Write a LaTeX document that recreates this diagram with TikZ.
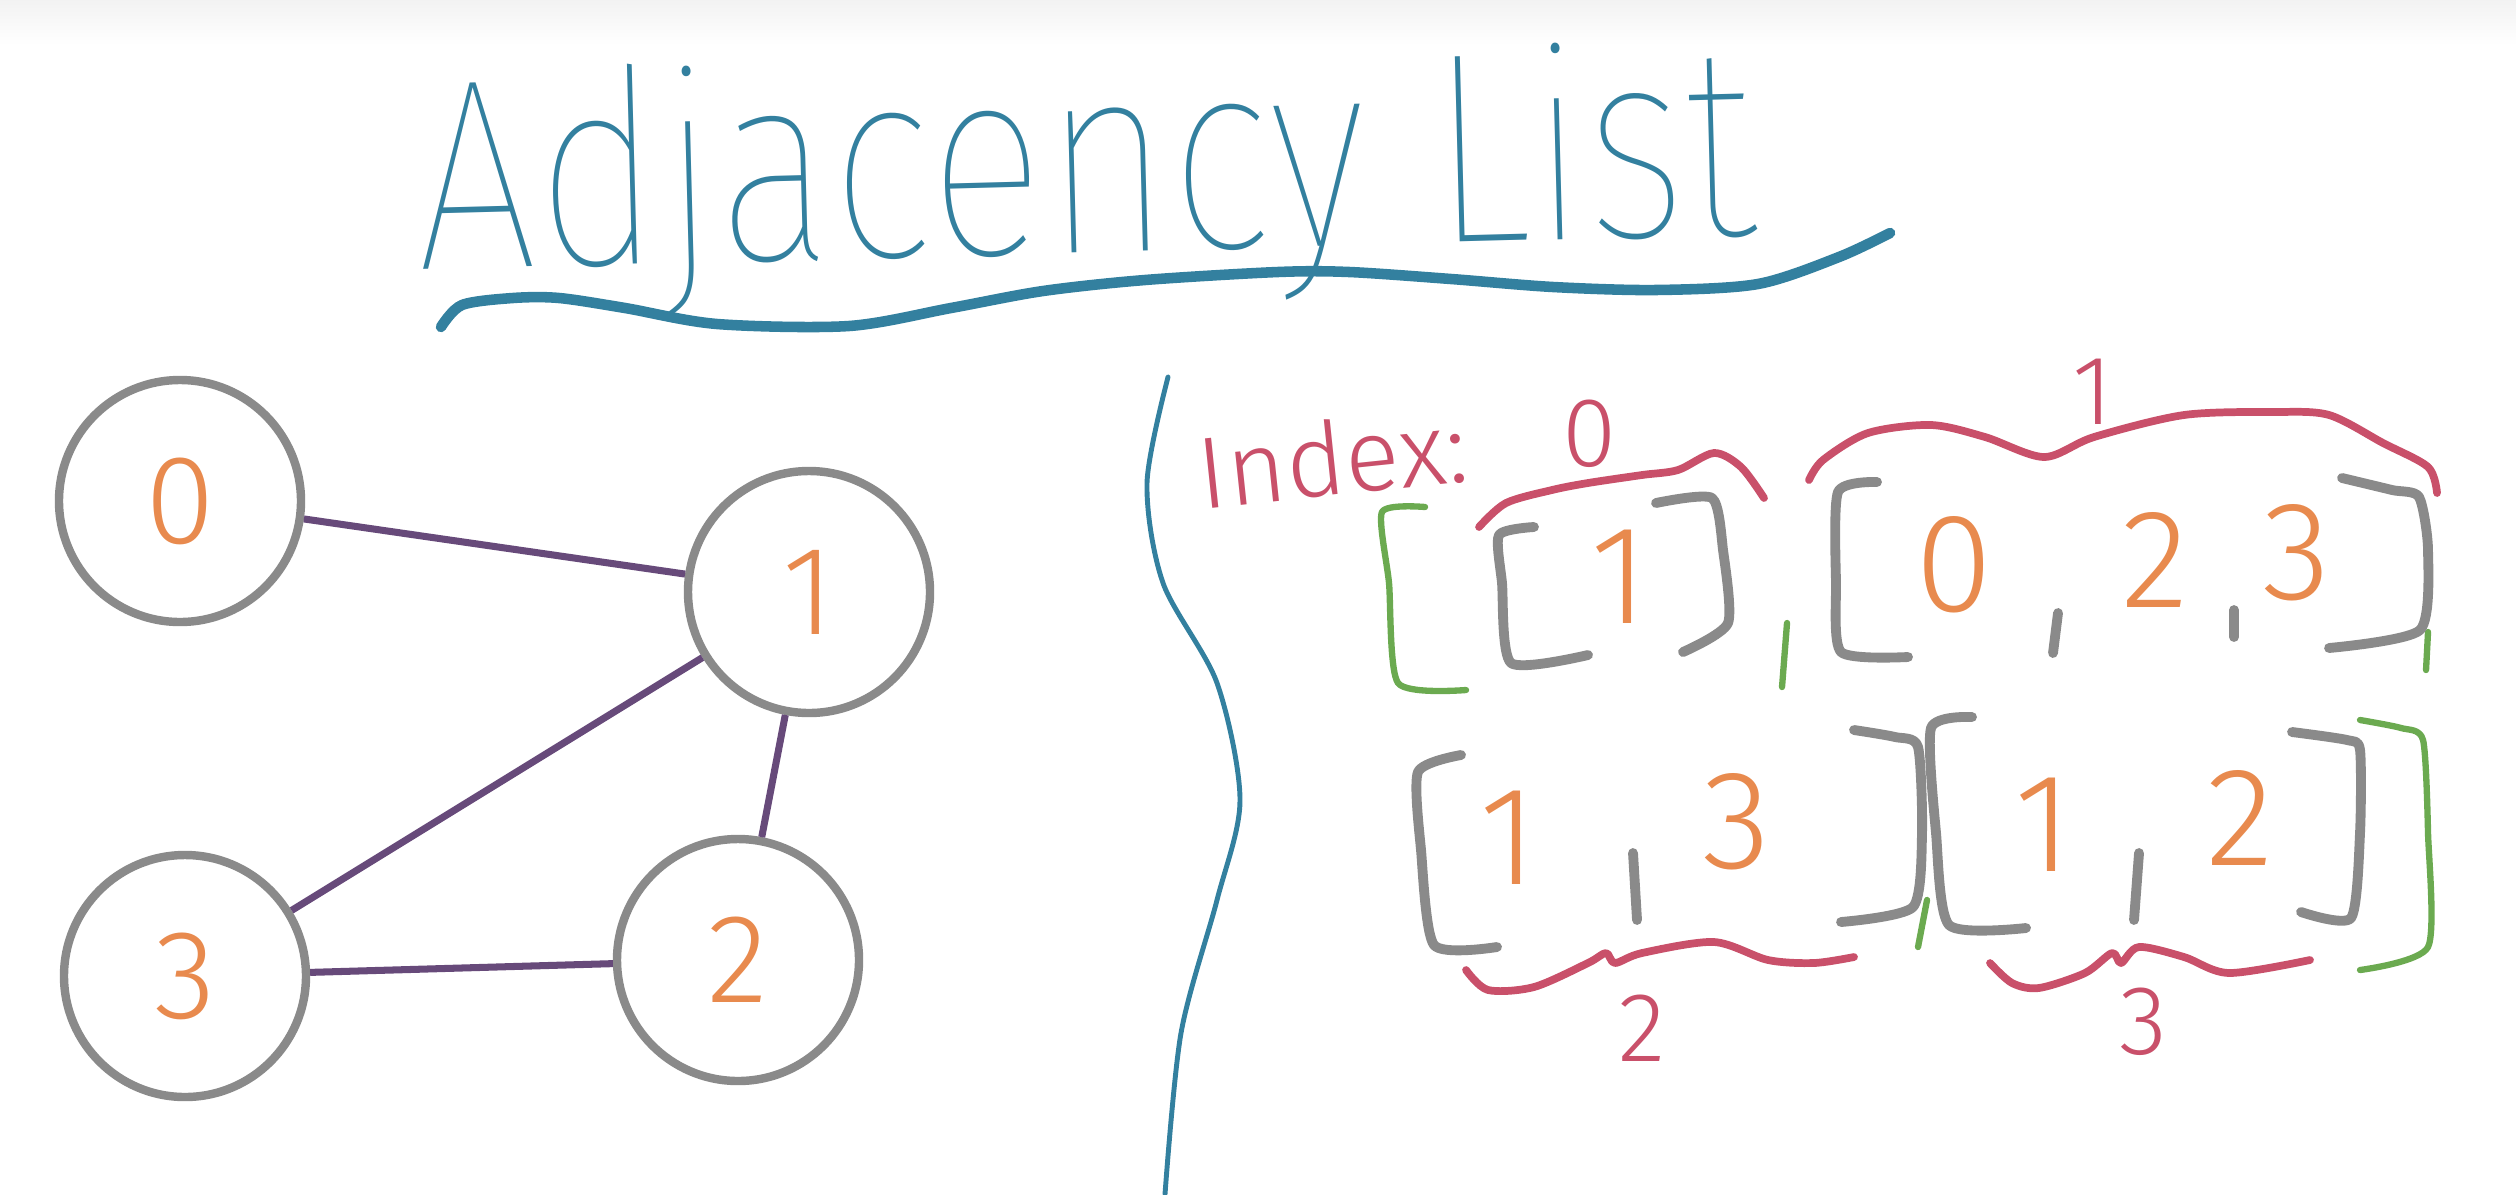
\documentclass[tikz,border=0pt]{standalone}
\usepackage{fontspec}
\setmainfont{Fira Sans}[UprightFont=* Light]
\newfontfamily\thinf{Fira Sans}[UprightFont=* Thin]
\usepackage{tikz}
\usetikzlibrary{calc,positioning}
\definecolor{titlec}{HTML}{33809F}
\definecolor{nodec}{HTML}{8A8A8A}
\definecolor{digc}{HTML}{E88A4E}
\definecolor{edgec}{HTML}{674A7A}
\definecolor{redc}{HTML}{C9506A}
\definecolor{greenc}{HTML}{6BAA50}
\tikzset{
  vtx/.style={circle,draw=nodec,line width=2.4pt,minimum size=2.42cm,inner sep=0pt,text=digc,font=\fontsize{36}{40}\selectfont},
  edg/.style={edgec,line width=2pt},
  brk/.style={nodec,line width=2.8pt,line cap=round,line join=round},
  grb/.style={greenc,line width=1.8pt,line cap=round,line join=round},
  brc/.style={redc,line width=2.2pt,line cap=round,line join=round},
  dig/.style={text=digc,inner sep=0pt,font=\fontsize{40}{44}\selectfont},
  lab/.style={text=redc,inner sep=0pt,font=\fontsize{28}{32}\selectfont}
}
\begin{document}
\begin{tikzpicture}[x=0.1mm,y=-0.1mm]
\useasboundingbox (0,0) rectangle (2516,1194);
\shade[top color=black!5,bottom color=white] (0,0) rectangle (2516,45);
% title
\node[text=titlec,inner sep=0pt,anchor=base,rotate=1.5] (ttl) at (1088,252) {\resizebox{13.4cm}{2.0cm}{\thinf Adjacency List}};
\draw[titlec,line width=3pt,line cap=round] plot[smooth,tension=0.5] coordinates {(441,327) (462,305) (513,298) (559,298) (625,308) (717,324) (849,326) (951,308) (1043,291) (1145,280) (1278,272) (1349,272) (1451,279) (1553,287) (1656,290) (1758,284) (1839,257) (1890,233)};
\draw[titlec,line width=1.4pt,line cap=round] plot[smooth,tension=0.5] coordinates {(1168,377) (1147,483) (1163,583) (1217,683) (1240,800) (1217,900) (1181,1033) (1165,1194)};
% graph
\node[vtx] (v0) at (180,501) {0};
\node[vtx] (v1) at (809,592) {1};
\node[vtx] (v3) at (185,976) {3};
\node[vtx] (v2) at (738,960) {2};
\draw[edg] (v0) -- (v1);
\draw[edg] (v1) -- (v3);
\draw[edg] (v1) -- (v2);
\draw[edg] (v3) -- (v2);
% index labels
\node[text=redc,inner sep=0pt,rotate=6,font=\fontsize{29}{32}\selectfont] (idx) at (1332,458) {Index:};
\node[lab] (i0) at (1590,434) {0};
\node[lab] (i1) at (2093,392) {1};
\node[lab] (i2) at (1642,1028) {2};
\node[lab] (i3) at (2143,1022) {3};
\draw[brc] plot[smooth,tension=0.5] coordinates {(1479,527) (1506,503) (1552,490) (1588,483) (1642,475) (1678,470) (1714,453) (1741,467) (1764,498)};
\draw[brc] plot[smooth,tension=0.5] coordinates {(1809,480) (1823,460) (1868,433) (1931,425) (1985,437) (2044,457) (2094,437) (2184,415) (2274,412) (2329,415) (2383,443) (2428,467) (2437,493)};
\draw[brc] plot[smooth,tension=0.5] coordinates {(1466,970) (1488,990) (1534,987) (1588,963) (1606,953) (1615,963) (1642,953) (1714,942) (1768,960) (1814,963) (1854,957)};
\draw[brc] plot[smooth,tension=0.5] coordinates {(1990,963) (2012,983) (2039,988) (2085,973) (2112,953) (2121,963) (2139,947) (2184,957) (2229,973) (2310,960)};
% outer list
\draw[grb] plot[smooth,tension=0.4] coordinates {(1425,507) (1382,512) (1389,583) (1398,683) (1466,690)};
\draw[grb] plot[smooth,tension=0.4] coordinates {(2360,720) (2401,728) (2423,740) (2428,833) (2428,947) (2360,970)};
\draw[grb] (1787,623) -- (1782,687);
\draw[grb] (2428,632) -- (2426,670);
\draw[grb] (1927,900) -- (1918,947);
% inner lists, row one
\draw[brk] plot[smooth,tension=0.4] coordinates {(1534,527) (1499,535) (1502,583) (1511,663) (1588,655)};
\node[dig] (a1) at (1620,577) {1};
\draw[brk] plot[smooth,tension=0.4] coordinates {(1656,503) (1712,498) (1723,550) (1728,623) (1683,652)};
\draw[brk] plot[smooth,tension=0.4] coordinates {(1877,482) (1838,492) (1836,583) (1841,652) (1908,657)};
\node[dig] (b0) at (1954,565) {0};
\draw[brk] (2058,613) -- (2053,653);
\node[dig] (b2) at (2155,560) {2};
\draw[brk] (2234,610) -- (2234,637);
\node[dig] (b3) at (2297,553) {3};
\draw[brk] plot[smooth,tension=0.4] coordinates {(2342,478) (2392,490) (2419,497) (2428,550) (2420,630) (2329,648)};
% inner lists, row two
\draw[brk] plot[smooth,tension=0.4] coordinates {(1461,755) (1418,772) (1421,850) (1434,945) (1497,947)};
\node[dig] (c1) at (1509,838) {1};
\draw[brk] (1633,853) -- (1637,920);
\node[dig] (c3) at (1737,822) {3};
\draw[brk] plot[smooth,tension=0.4] coordinates {(1854,730) (1895,737) (1918,747) (1922,833) (1913,907) (1841,922)};
\draw[brk] plot[smooth,tension=0.4] coordinates {(1972,717) (1931,728) (1936,833) (1949,925) (2026,928)};
\node[dig] (d1) at (2043,825) {1};
\draw[brk] (2139,853) -- (2134,920);
\node[dig] (d2) at (2240,818) {2};
\draw[brk] plot[smooth,tension=0.4] coordinates {(2292,732) (2347,740) (2360,750) (2360,833) (2351,918) (2301,912)};
\end{tikzpicture}
\end{document}
